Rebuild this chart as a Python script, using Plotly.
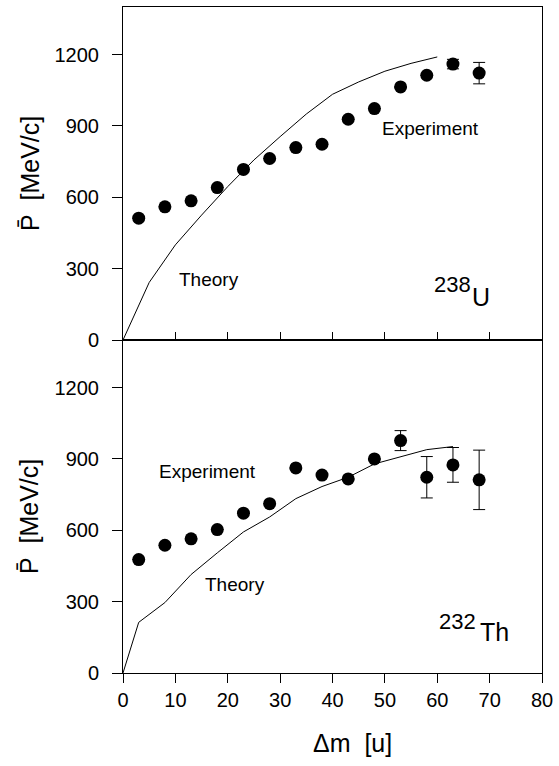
import plotly.graph_objects as go

# ---- data ----
exp_x = [3, 8, 13, 18, 23, 28, 33, 38, 43, 48, 53, 58, 63, 68]
u_exp = [512, 560, 585, 641, 717, 763, 809, 823, 928, 973, 1064, 1113, 1160, 1122]
u_err = [0, 0, 0, 0, 0, 0, 0, 0, 0, 0, 0, 0, 20, 45]
th_exp = [477, 537, 564, 603, 672, 712, 862, 832, 816, 900, 977, 823, 875, 812]
th_err = [0, 0, 0, 0, 0, 0, 0, 0, 0, 0, 42, 87, 73, 125]

u_theory_x = [0, 5, 10, 15, 20, 25, 30, 35, 40, 45, 50, 55, 60]
u_theory = [0, 242, 400, 525, 645, 757, 855, 950, 1033, 1085, 1130, 1163, 1190]
th_theory_x = [0, 3, 8, 13, 18, 23, 28, 33, 38, 43, 48, 53, 58, 63]
th_theory = [0, 213, 296, 414, 505, 593, 656, 733, 784, 823, 879, 908, 939, 952]

x_ticks = [0, 10, 20, 30, 40, 50, 60, 70, 80]
y_ticks = [0, 300, 600, 900, 1200]

FONT = "Liberation Sans, Arial, sans-serif"

fig = go.Figure()

# top panel: 238U
fig.add_trace(go.Scatter(x=u_theory_x, y=u_theory, mode="lines",
                         line=dict(color="black", width=1), xaxis="x2", yaxis="y2",
                         showlegend=False))
fig.add_trace(go.Scatter(x=exp_x, y=u_exp, mode="markers",
                         marker=dict(color="black", size=13),
                         error_y=dict(type="data", array=u_err, color="black",
                                      thickness=1, width=6),
                         xaxis="x2", yaxis="y2", showlegend=False))
# bottom panel: 232Th
fig.add_trace(go.Scatter(x=th_theory_x, y=th_theory, mode="lines",
                         line=dict(color="black", width=1), xaxis="x", yaxis="y",
                         showlegend=False))
fig.add_trace(go.Scatter(x=exp_x, y=th_exp, mode="markers",
                         marker=dict(color="black", size=13),
                         error_y=dict(type="data", array=th_err, color="black",
                                      thickness=1, width=6),
                         xaxis="x", yaxis="y", showlegend=False))

axis_common = dict(showline=True, linecolor="black", linewidth=1, mirror=True,
                   showgrid=False, zeroline=False, tickcolor="black", tickwidth=1,
                   tickfont=dict(family=FONT, size=20, color="black"))

fig.update_layout(
    width=559, height=766,
    margin=dict(l=123, r=12, t=6, b=93),
    paper_bgcolor="white", plot_bgcolor="white",
    font=dict(family=FONT, color="black"),
    xaxis=dict(domain=[0, 1], range=[0, 80], anchor="y", tickvals=x_ticks,
               ticks="outside", ticklen=9, **axis_common),
    xaxis2=dict(domain=[0, 1], range=[0, 80], anchor="y2", tickvals=x_ticks,
                ticks="inside", ticklen=8, showticklabels=False, **axis_common),
    yaxis=dict(domain=[0, 0.5], range=[0, 1400], anchor="x", tickvals=y_ticks,
               ticks="outside", ticklen=10, ticklabelstandoff=9, **axis_common),
    yaxis2=dict(domain=[0.5, 1], range=[0, 1400], anchor="x2", tickvals=y_ticks,
                ticks="outside", ticklen=10, ticklabelstandoff=9, **axis_common),
)

ann_font = dict(family=FONT, size=19, color="black")
anns = [
    dict(x=16.4, y=254, xref="x2", yref="y2", text="Theory"),
    dict(x=58.7, y=889, xref="x2", yref="y2", text="Experiment"),
    dict(x=16.2, y=847, xref="x", yref="y", text="Experiment"),
    dict(x=21.4, y=370, xref="x", yref="y", text="Theory"),
]
for a in anns:
    fig.add_annotation(showarrow=False, font=ann_font, xanchor="center",
                       yanchor="middle", **a)

iso = [
    dict(x=62.9, y=232, xref="x2", yref="y2", text="238", size=22),
    dict(x=68.4, y=180, xref="x2", yref="y2", text="U", size=25),
    dict(x=63.9, y=216, xref="x", yref="y", text="232", size=22),
    dict(x=70.9, y=172, xref="x", yref="y", text="Th", size=25),
]
for a in iso:
    s = a.pop("size")
    fig.add_annotation(showarrow=False, xanchor="center", yanchor="middle",
                       font=dict(family=FONT, size=s, color="black"), **a)

# axis titles
ytitle = "P\u0304  [MeV/c]"
for yc in (0.75, 0.235):
    fig.add_annotation(x=-0.223, y=yc, xref="paper", yref="paper", text=ytitle,
                       textangle=-90, showarrow=False, xanchor="center",
                       yanchor="middle",
                       font=dict(family=FONT, size=25, color="black"))
fig.add_annotation(x=0.547, y=-0.105, xref="paper", yref="paper", text="\u0394m  [u]",
                   showarrow=False, xanchor="center", yanchor="middle",
                   font=dict(family=FONT, size=25, color="black"))

fig.write_html("out.html")
